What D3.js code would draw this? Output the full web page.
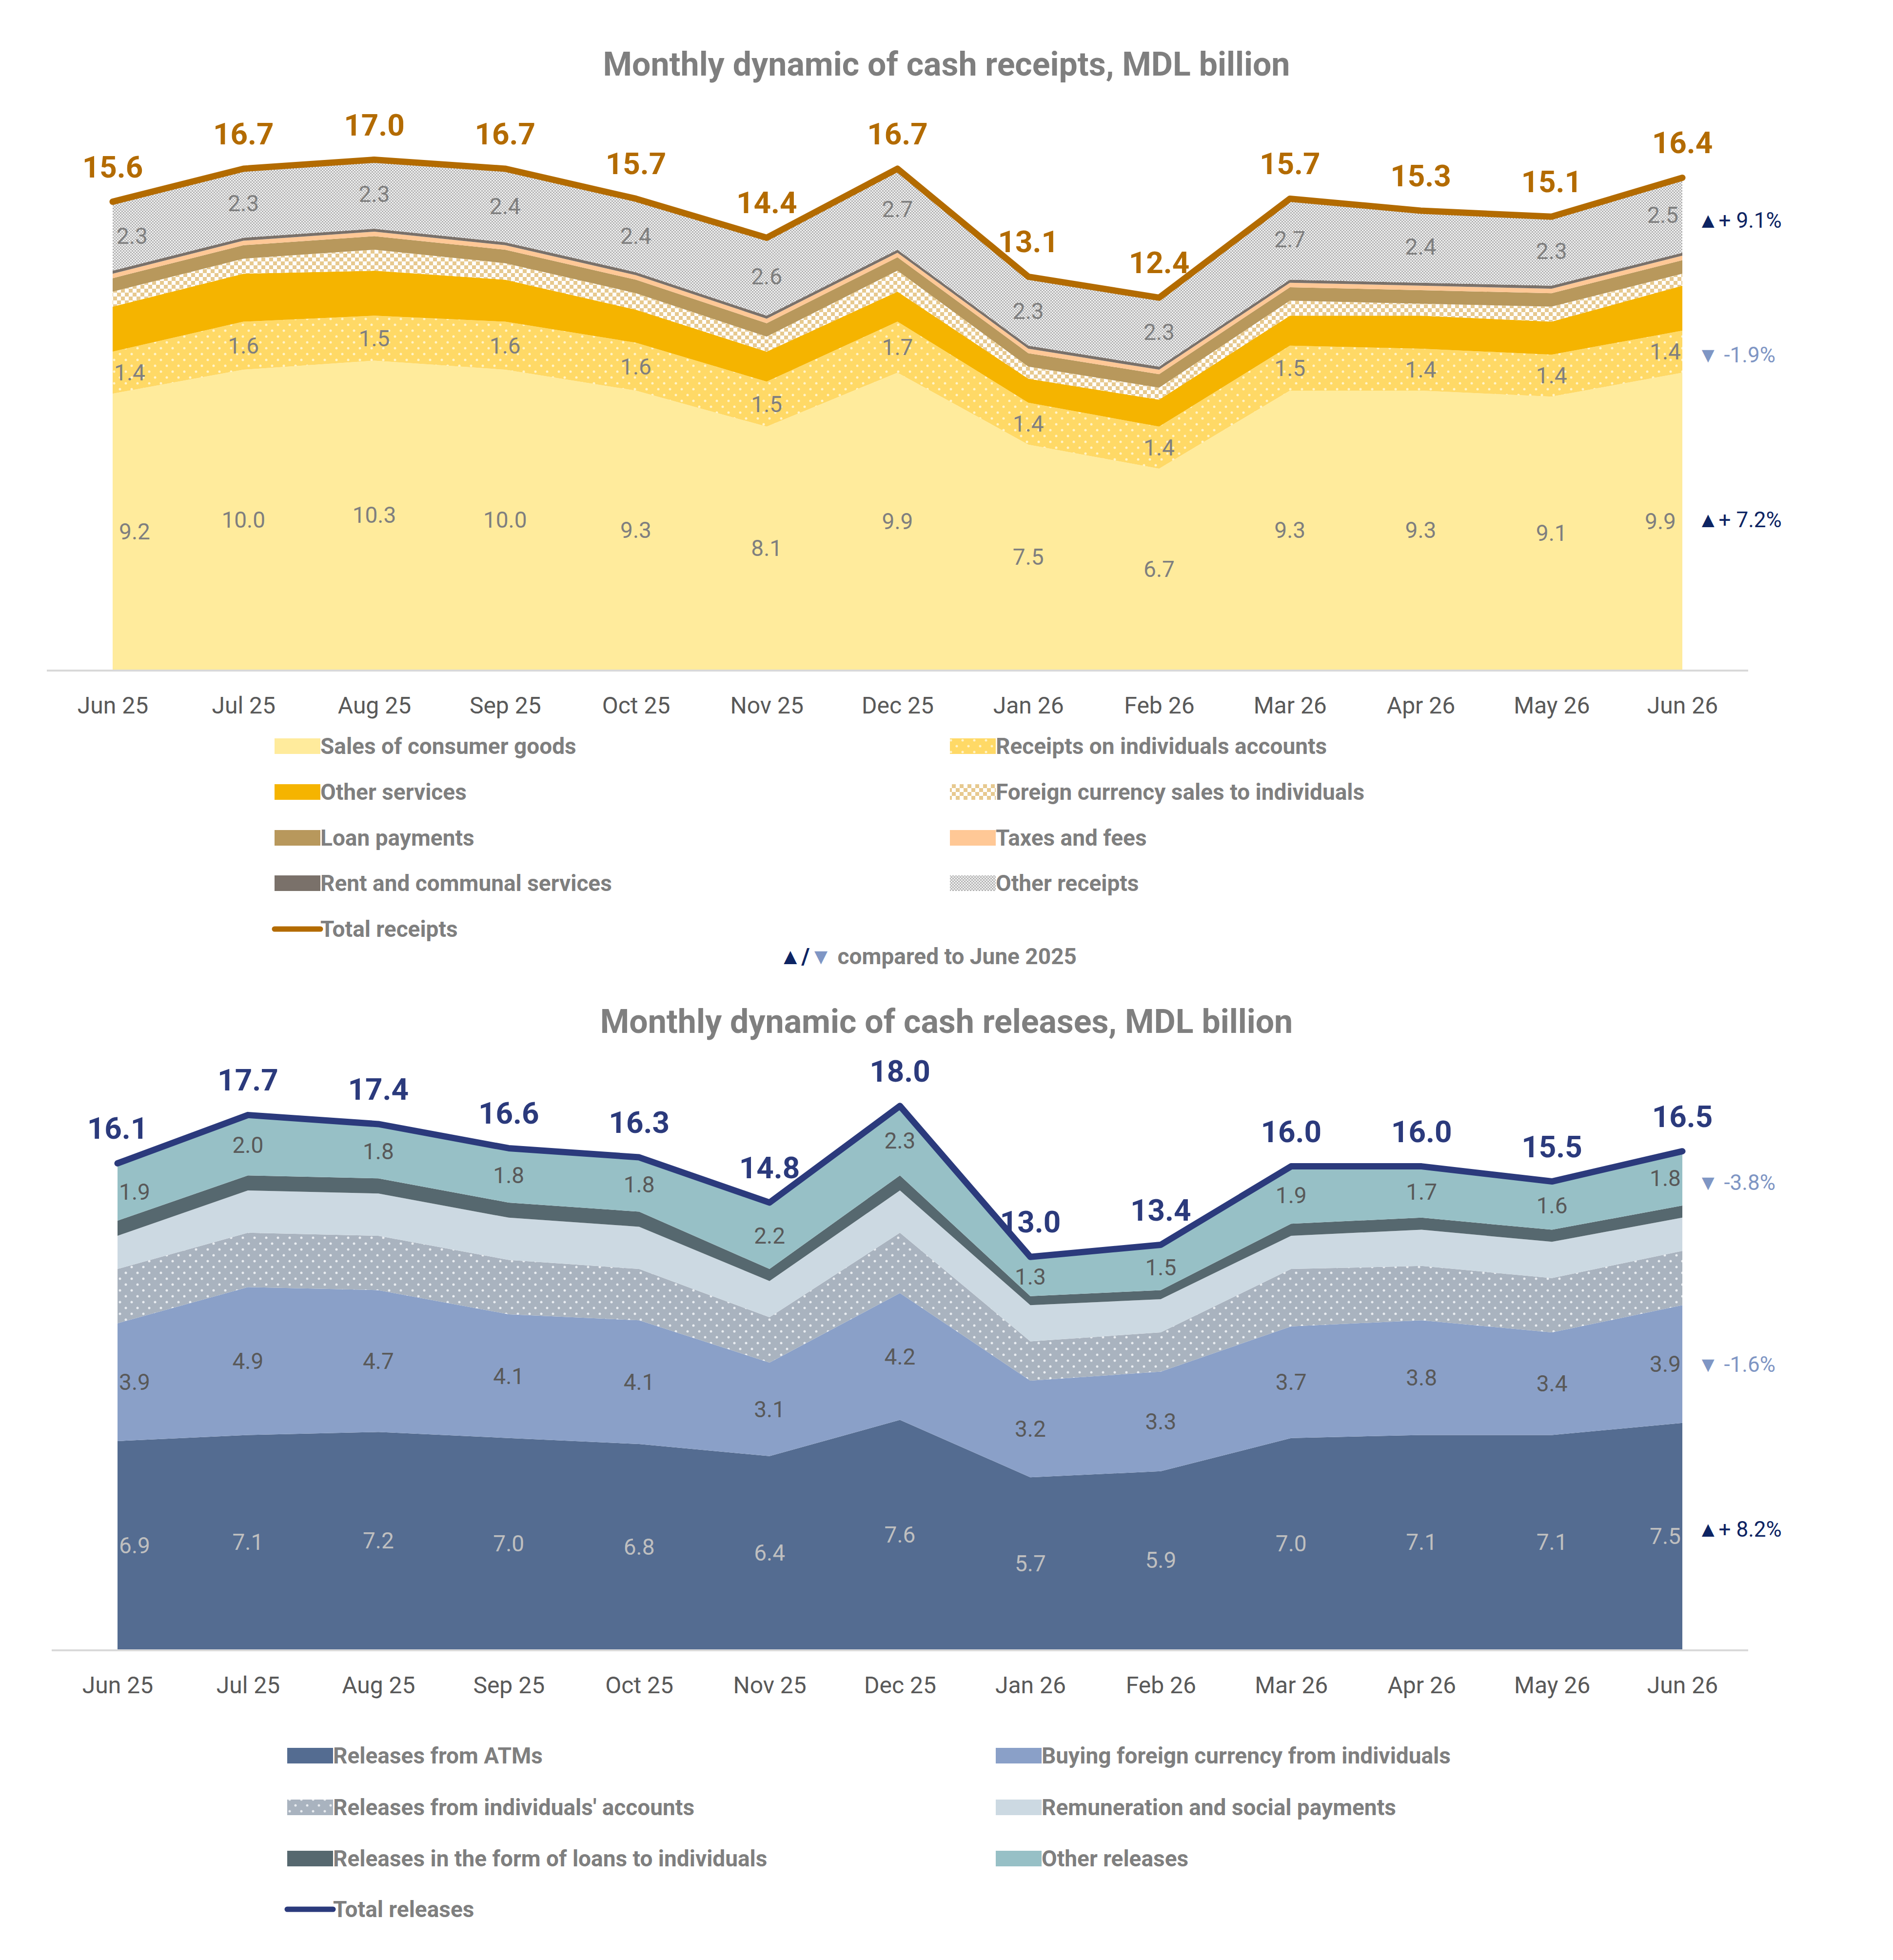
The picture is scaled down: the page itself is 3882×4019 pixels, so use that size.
<!DOCTYPE html>
<html><head><meta charset="utf-8">
<script src="https://cdn.jsdelivr.net/npm/d3@7"></script>
<style>body{margin:0;background:#fff}svg{display:block;font-family:Roboto,"Noto Sans",sans-serif}</style>
</head><body><svg id="c" width="3882" height="4019"></svg>
<script>
const months=["Jun 25","Jul 25","Aug 25","Sep 25","Oct 25","Nov 25","Dec 25","Jan 26","Feb 26","Mar 26","Apr 26","May 26","Jun 26"];
// receipts
const salesGoods=[9.2,10.0,10.3,10.0,9.3,8.1,9.9,7.5,6.7,9.3,9.3,9.1,9.9];
const rcptAccounts=[1.4,1.6,1.5,1.6,1.6,1.5,1.7,1.4,1.4,1.5,1.4,1.4,1.4];
const otherServices=[1.5,1.6,1.5,1.4,1.1,1.0,1.0,0.8,0.9,1.0,1.1,1.1,1.5];
const fxSales=[0.5,0.5,0.7,0.55,0.55,0.5,0.7,0.4,0.4,0.5,0.4,0.5,0.4];
const loanPay=[0.45,0.45,0.45,0.45,0.45,0.45,0.45,0.45,0.45,0.45,0.45,0.45,0.45];
const taxes=[0.15,0.15,0.15,0.15,0.15,0.15,0.15,0.15,0.15,0.15,0.15,0.15,0.15];
const rent=[0.1,0.1,0.1,0.1,0.1,0.1,0.1,0.1,0.1,0.1,0.1,0.1,0.1];
const otherRcpt=[2.3,2.3,2.3,2.4,2.4,2.6,2.7,2.3,2.3,2.7,2.4,2.3,2.5];
const totalRcpt=[15.6,16.7,17.0,16.7,15.7,14.4,16.7,13.1,12.4,15.7,15.3,15.1,16.4];
// releases
const atm=[6.9,7.1,7.2,7.0,6.8,6.4,7.6,5.7,5.9,7.0,7.1,7.1,7.5];
const fxBuy=[3.9,4.9,4.7,4.1,4.1,3.1,4.2,3.2,3.3,3.7,3.8,3.4,3.9];
const relAccounts=[1.8,1.8,1.8,1.8,1.7,1.5,2.0,1.3,1.3,1.9,1.8,1.8,1.8];
const remuneration=[1.1,1.4,1.4,1.4,1.4,1.2,1.4,1.2,1.1,1.1,1.2,1.2,1.1];
const relLoans=[0.5,0.5,0.5,0.5,0.5,0.4,0.5,0.3,0.3,0.4,0.4,0.4,0.4];
const otherRel=[1.9,2.0,1.8,1.8,1.8,2.2,2.3,1.3,1.5,1.9,1.7,1.6,1.8];
const totalRel=[16.1,17.7,17.4,16.6,16.3,14.8,18.0,13.0,13.4,16.0,16.0,15.5,16.5];

const svg=d3.select("#c");
svg.append("rect").attr("width",3882).attr("height",4019).attr("fill","#fff");
const defs=svg.append("defs");
function dots(id,bg,fg,s,r){const p=defs.append("pattern").attr("id",id).attr("patternUnits","userSpaceOnUse").attr("width",s).attr("height",s);
 p.append("rect").attr("width",s).attr("height",s).attr("fill",bg);
 p.append("circle").attr("cx",s/4).attr("cy",s/4).attr("r",r).attr("fill",fg);
 p.append("circle").attr("cx",3*s/4).attr("cy",3*s/4).attr("r",r).attr("fill",fg);}
function checker(id,a,b,s){const p=defs.append("pattern").attr("id",id).attr("patternUnits","userSpaceOnUse").attr("width",2*s).attr("height",2*s);
 p.append("rect").attr("width",2*s).attr("height",2*s).attr("fill",a);
 p.append("rect").attr("width",s).attr("height",s).attr("fill",b);
 p.append("rect").attr("x",s).attr("y",s).attr("width",s).attr("height",s).attr("fill",b);}
dots("pAcc","#ffd966","#fff3c8",24,2.5);
checker("pFx","#e7c98f","#ffffff",8);
checker("pOth","#b3b3b3","#f2f2f2",3);
dots("pRel","#a9b3bf","#e9edf1",24,2.5);

function chart(cfg){
 const x=d3.scalePoint().domain(months).range([cfg.x0,cfg.x1]);
 const y=d3.scaleLinear().domain([0,1]).range([cfg.base,cfg.base-cfg.ppu]);
 const keys=cfg.series.map((s,i)=>"k"+i);
 const rows=months.map((m,j)=>{const o={m};cfg.series.forEach((s,i)=>o["k"+i]=s.v[j]);return o;});
 const st=d3.stack().keys(keys)(rows);
 const area=d3.area().x(d=>x(d.data.m)).y0(d=>y(d[0])).y1(d=>y(d[1]));
 const g=svg.append("g");
 st.forEach((l,i)=>g.append("path").datum(l).attr("d",area).attr("fill",cfg.series[i].fill));
 // axis
 svg.append("line").attr("x1",cfg.ax0).attr("x2",cfg.ax1).attr("y1",cfg.base+2).attr("y2",cfg.base+2).attr("stroke","#d9d9d9").attr("stroke-width",4);
 const ax=svg.append("g").attr("transform",`translate(0,${cfg.base})`).call(d3.axisBottom(x).tickSize(0).tickPadding(56));
 ax.select(".domain").remove();
 ax.selectAll("text").attr("font-size",48).attr("fill","#595959").attr("font-family","Roboto");
 // labels
 st.forEach((l,i)=>{const s=cfg.series[i]; if(!s.label) return;
  l.forEach((d,j)=>{let xx=x(months[j]); if(j==0) xx+=s.off||35; if(j==12) xx-=s.off||35;
   g.append("text").attr("x",xx).attr("y",y((d[0]+d[1])/2)).attr("dy","0.35em").attr("text-anchor","middle")
    .attr("font-size",46).attr("fill",s.lc||"#7f7f7f").text(s.v[j].toFixed(1));});});
 // total line
 const line=d3.line().x((d,j)=>x(months[j])).y(d=>y(d));
 svg.append("path").datum(cfg.total).attr("d",line).attr("fill","none").attr("stroke",cfg.tc).attr("stroke-width",13).attr("stroke-linejoin","round").attr("stroke-linecap","round");
 cfg.total.forEach((v,j)=>svg.append("text").attr("x",x(months[j])).attr("y",y(v)-50).attr("text-anchor","middle")
   .attr("font-size",62).attr("font-weight","bold").attr("fill",cfg.tc).text(v.toFixed(1)));
 // title
 svg.append("text").attr("x",1941).attr("y",cfg.ty).attr("text-anchor","middle").attr("font-size",68).attr("font-weight","bold").attr("fill","#7f7f7f").text(cfg.title);
 // annotations
 cfg.notes.forEach(n=>{const t=svg.append("text").attr("x",cfg.nx).attr("y",n[0]).attr("dy","0.35em").attr("font-size",44);
  if(n[1]=="up"){t.append("tspan").attr("fill","#0d2463").text("▲+ "+n[2]);}
  else {t.append("tspan").attr("fill","#7f96c4").text("▼ "+n[2]);}});
 // legend
 cfg.legend.forEach((L,i)=>{const col=i%2,row=Math.floor(i/2);const lx=cfg.lx[col],ly=cfg.ly[row];
  if(L.line) svg.append("line").attr("x1",lx).attr("x2",lx+94).attr("y1",ly).attr("y2",ly).attr("stroke",L.fill).attr("stroke-width",11).attr("stroke-linecap","round");
  else svg.append("rect").attr("x",lx).attr("y",ly-16).attr("width",94).attr("height",32).attr("fill",L.fill);
  svg.append("text").attr("x",lx+94).attr("y",ly).attr("dy","0.35em").attr("font-size",46).attr("font-weight","bold").attr("fill","#7f7f7f").text(L.name);});
}

chart({x0:231,x1:3450,ax0:96,ax1:3585,base:1373,ppu:61.5,ty:155,title:"Monthly dynamic of cash receipts, MDL billion",tc:"#b36b00",total:totalRcpt,nx:3481,
 series:[{v:salesGoods,fill:"#ffeb9c",label:1,off:45},{v:rcptAccounts,fill:"url(#pAcc)",label:1},{v:otherServices,fill:"#f5b400"},{v:fxSales,fill:"url(#pFx)"},
  {v:loanPay,fill:"#b8985c"},{v:taxes,fill:"#ffc896"},{v:rent,fill:"#7a716a"},{v:otherRcpt,fill:"url(#pOth)",label:1,off:40}],
 notes:[[452,"up","9.1%"],[728,"dn","-1.9%"],[1066,"up","7.2%"]],
 lx:[563,1948],ly:[1530,1624,1718,1811,1905],
 legend:[{name:"Sales of consumer goods",fill:"#ffeb9c"},{name:"Receipts on individuals accounts",fill:"url(#pAcc)"},{name:"Other services",fill:"#f5b400"},
  {name:"Foreign currency sales to individuals",fill:"url(#pFx)"},{name:"Loan payments",fill:"#b8985c"},{name:"Taxes and fees",fill:"#ffc896"},
  {name:"Rent and communal services",fill:"#7a716a"},{name:"Other receipts",fill:"url(#pOth)"},{name:"Total receipts",fill:"#b36b00",line:1}]});
const cmp=svg.append("text").attr("x",1903).attr("y",1961).attr("dy","0.35em").attr("text-anchor","middle").attr("font-size",46).attr("font-weight","bold");
cmp.append("tspan").attr("fill","#0d2463").text("▲");cmp.append("tspan").attr("fill","#0d2463").text("/");cmp.append("tspan").attr("fill","#7f96c4").text("▼");
cmp.append("tspan").attr("fill","#7f7f7f").text(" compared to June 2025");

chart({x0:241,x1:3450,ax0:106,ax1:3585,base:3382,ppu:61.9,ty:2118,title:"Monthly dynamic of cash releases, MDL billion",tc:"#2b3a7c",total:totalRel,nx:3481,
 series:[{v:atm,fill:"#546c91",label:1,lc:"#bfbfbf"},{v:fxBuy,fill:"#8aa0c8",label:1,lc:"#595959"},{v:relAccounts,fill:"url(#pRel)"},{v:remuneration,fill:"#ccd9e2"},
  {v:relLoans,fill:"#56686f"},{v:otherRel,fill:"#97c0c6",label:1,lc:"#595959"}],
 notes:[[2425,"dn","-3.8%"],[2798,"dn","-1.6%"],[3136,"up","8.2%"]],
 lx:[589,2042],ly:[3600,3706,3811,3915],
 legend:[{name:"Releases from ATMs",fill:"#546c91"},{name:"Buying foreign currency from individuals",fill:"#8aa0c8"},{name:"Releases from individuals' accounts",fill:"url(#pRel)"},
  {name:"Remuneration and social payments",fill:"#ccd9e2"},{name:"Releases in the form of loans to individuals",fill:"#56686f"},{name:"Other releases",fill:"#97c0c6"},
  {name:"Total releases",fill:"#2b3a7c",line:1}]});
</script></body></html>
